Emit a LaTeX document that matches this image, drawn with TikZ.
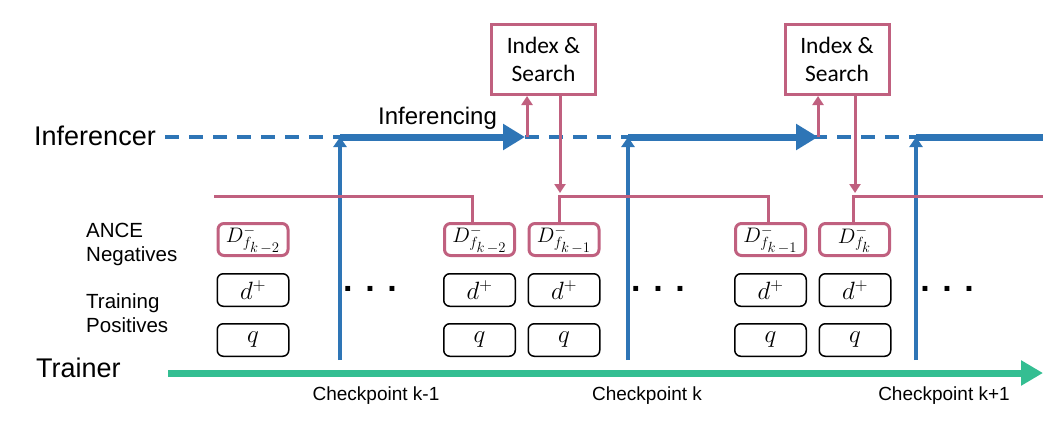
\RequirePackage{fix-cm}
\documentclass[tikz,border=0pt]{standalone}
\usepackage{fontspec}
\newfontfamily\arialf{Liberation Sans}
\newfontfamily\calfont{Carlito}
\usetikzlibrary{arrows.meta}
\definecolor{ablue}{RGB}{46,117,182}
\definecolor{apink}{RGB}{192,96,127}
\definecolor{agreen}{RGB}{52,190,146}
\tikzset{
  biglbl/.style={font=\arialf\fontsize{27}{30}\selectfont, inner sep=0, anchor=base west},
  rowlbl/.style={font=\arialf\fontsize{20.5}{24}\selectfont, inner sep=0, anchor=base west},
  cklbl/.style={font=\arialf\fontsize{19}{22}\selectfont, inner sep=0, anchor=base},
  inflbl/.style={font=\arialf\fontsize{24}{28}\selectfont, inner sep=0, anchor=base west},
  dotslbl/.style={font=\arialf\bfseries\fontsize{34}{36}\selectfont, inner sep=0, anchor=base},
  idxbox/.style={draw=apink, line width=3pt, minimum width=104, minimum height=70, align=center,
    font=\calfont\fontsize{23.5}{28}\selectfont, inner sep=0},
  negbox/.style={draw=apink, line width=3pt, rounded corners=6pt, minimum width=70, minimum height=32,
    inner sep=0, font=\fontsize{21}{24}\selectfont},
  posbox/.style={draw=black, line width=1.5pt, rounded corners=6pt, minimum width=71.5, minimum height=32.5,
    inner sep=0, font=\fontsize{25}{28}\selectfont},
  pinkln/.style={draw=apink, line width=3pt},
  pinkar/.style={draw=apink, line width=3pt, -{Triangle[length=9pt,width=11pt]}},
  bluedash/.style={draw=ablue, line width=3.5pt, dash pattern=on 14pt off 10pt},
  bluethick/.style={draw=ablue, line width=7pt},
  bluearr/.style={draw=ablue, line width=7pt, -{Triangle[length=22pt,width=25pt]}},
  ckarr/.style={draw=ablue, line width=3.5pt, -{Triangle[length=10pt,width=13pt]}},
  greenarr/.style={draw=agreen, line width=7pt, -{Triangle[length=22pt,width=24pt]}},
}
\newcommand{\dneg}[1]{$D^{-}_{f_{\scriptstyle #1}}$}
\begin{document}
\begin{tikzpicture}[x=1pt,y=-1pt]
\useasboundingbox (0,0) rectangle (1064,420);

% labels
\node[biglbl] (inferencer) at (34,145) {Inferencer};
\node[biglbl] (trainer) at (36,377) {Trainer};
\node[rowlbl] (ance) at (86,237) {ANCE};
\node[rowlbl] (neg) at (86,261) {Negatives};
\node[rowlbl] (trn) at (86,308) {Training};
\node[rowlbl] (pos) at (86,332) {Positives};
\node[inflbl] (infing) at (378,124) {Inferencing};
\node[cklbl] (ck1) at (376,400) {Checkpoint k-1};
\node[cklbl] (ck2) at (647,400) {Checkpoint k};
\node[cklbl] (ck3) at (944,400) {Checkpoint k+1};
\node[dotslbl] (dots1) at (370,291) {. . .};
\node[dotslbl] (dots2) at (658,291) {. . .};
\node[dotslbl] (dots3) at (947,291) {. . .};

% index boxes
\node[idxbox] (idx1) at (543.5,59.5) {Index \&\\Search};
\node[idxbox] (idx2) at (837,59.5) {Index \&\\Search};

% data boxes
\node[negbox] (nA) at (253,239.5) {\dneg{k\,-2}};
\node[negbox] (nB) at (479.5,239.5) {\dneg{k\,-2}};
\node[negbox] (nC) at (564,239.5) {\dneg{k\,-1}};
\node[negbox] (nD) at (770.5,239.5) {\dneg{k\,-1}};
\node[negbox] (nE) at (854.5,239.5) {\dneg{k}};
\foreach \n/\x in {A/253,B/479.5,C/564,D/770.5,E/855}{
  \node[posbox] (d\n) at (\x,290) {$d^{+}$};
  \node[posbox] (q\n) at (\x,340) {$q$};
}

% coordinates
\coordinate (dashS) at (165,137);
\coordinate (dashE) at (1043,137);
\coordinate (cb1) at (340,360);
\coordinate (ct1) at (340,137);
\coordinate (cb2) at (628,360);
\coordinate (ct2) at (628,137);
\coordinate (cb3) at (916,360);
\coordinate (ct3) at (916,137);
\coordinate (t1) at (525,137);
\coordinate (t2) at (818,137);
\coordinate (up1) at (527,137);
\coordinate (up2) at (818,137);
\coordinate (dn1) at (560,193);
\coordinate (dn2) at (855,193);
\coordinate (pa) at (214,196);
\coordinate (h2) at (559,196);
\coordinate (h3) at (853,196);
\coordinate (pe) at (1043,196);
\coordinate (gS) at (168,373);
\coordinate (gE) at (1043,373);

% inferencer line
\draw[bluedash] (dashS) -- (dashE);
\draw[bluearr] (ct1) -- (t1);
\draw[bluearr] (ct2) -- (t2);
\draw[bluethick] (ct3) -- (dashE);

% checkpoint arrows
\draw[ckarr] (cb1) -- (ct1);
\draw[ckarr] (cb2) -- (ct2);
\draw[ckarr] (cb3) -- (ct3);

% trainer
\draw[greenarr] (gS) -- (gE);

% pink connections
\draw[pinkar] (up1) -- (idx1.south -| up1);
\draw[pinkar] (up2) -- (idx2.south -| up2);
\draw[pinkar] (idx1.south -| dn1) -- (dn1);
\draw[pinkar] (idx2.south -| dn2) -- (dn2);
\draw[pinkln] (pa) -| ([xshift=-7.5pt]nB.north);
\draw[pinkln] (nC.north -| h2) |- ([xshift=-2.5pt]nD.north |- h2) -- ([xshift=-2.5pt]nD.north);
\draw[pinkln] (nE.north -| h3) |- (pe);
\end{tikzpicture}
\end{document}
